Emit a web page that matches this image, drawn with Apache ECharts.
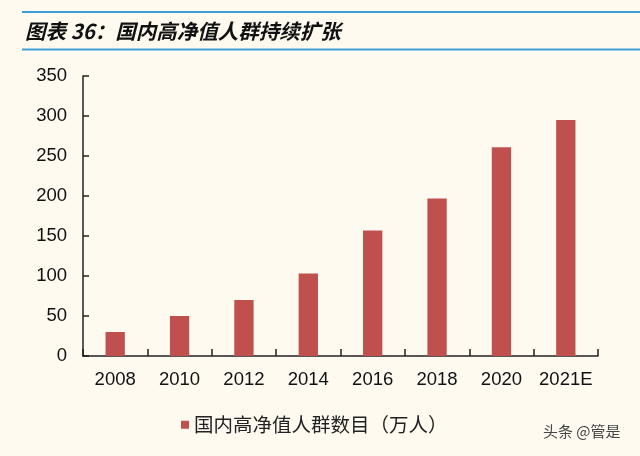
<!DOCTYPE html>
<html>
<head>
<meta charset="utf-8">
<script src="https://cdn.jsdelivr.net/npm/echarts@6/dist/echarts.min.js"></script>
<style>
  html, body { margin: 0; padding: 0; background: #fefaf0; }
  #main { width: 640px; height: 456px; }
</style>
</head>
<body>
<div id="main"></div>
<script type="text/javascript">
	// 年份与人数（万人）
	var years = ['2008', '2010', '2012', '2014', '2016', '2018', '2020', '2021E'];
	var people = [30, 50, 70, 103, 157, 197, 261, 295];
	var yTicks = [0, 50, 100, 150, 200, 250, 300, 350];
	var seriesName = '国内高净值人群数目（万人）';

	var myChart = echarts.init(document.getElementById('main'));
	var option = {
		backgroundColor: '#fefaf0',
		animation: false,
		title: {
			text: '图表 36：国内高净值人群持续扩张',
			left: 20,
			top: 16,
			textStyle: {
				fontFamily: 'Noto Sans CJK SC',
				fontStyle: 'italic',
				fontWeight: 'bold',
				fontSize: 20.5,
				color: '#111'
			}
		},
		graphic: [
			{ type: 'line', shape: { x1: 22, y1: 12, x2: 640, y2: 12 }, style: { stroke: '#3d9fd6', lineWidth: 2 } },
			{ type: 'line', shape: { x1: 22, y1: 49.5, x2: 640, y2: 49.5 }, style: { stroke: '#3d9fd6', lineWidth: 2 } },
			{ type: 'text', left: 543, top: 424, style: { text: '头条 @管是', fill: '#444', font: '15px "Noto Sans CJK SC"' } }
		],
		legend: {
			data: [seriesName],
			left: 176,
			top: 410,
			icon: 'rect',
			itemWidth: 8,
			itemHeight: 8,
			itemGap: 8,
			textStyle: {
				fontFamily: 'Noto Sans CJK SC',
				fontSize: 19.5,
				color: '#222'
			}
		},
		grid: {
			left: 83,
			right: 42,
			top: 76,
			bottom: 100
		},
		xAxis: {
			type: 'category',
			data: years,
			axisLine: { show: true, lineStyle: { color: '#222', width: 1.5 } },
			axisTick: { show: true, inside: true, length: 7, interval: 0, alignWithLabel: false, lineStyle: { color: '#222', width: 1.5 } },
			axisLabel: {
				interval: 0,
				color: '#111',
				fontFamily: 'Liberation Sans',
				fontSize: 18.5,
				margin: 14
			}
		},
		yAxis: {
			type: 'value',
			min: yTicks[0],
			max: yTicks[yTicks.length - 1],
			interval: yTicks[1] - yTicks[0],
			axisLine: { show: true, lineStyle: { color: '#222', width: 1.5 } },
			axisTick: { show: true, inside: true, length: 6, lineStyle: { color: '#222', width: 1.5 } },
			splitLine: { show: false },
			axisLabel: {
				color: '#111',
				fontFamily: 'Liberation Sans',
				fontSize: 18.5,
				margin: 16
			}
		},
		series: [
			{
				name: seriesName,
				type: 'bar',
				data: people,
				barWidth: '30%',
				itemStyle: { color: '#c0504d' }
			}
		]
	};
	myChart.setOption(option);
</script>
</body>
</html>
